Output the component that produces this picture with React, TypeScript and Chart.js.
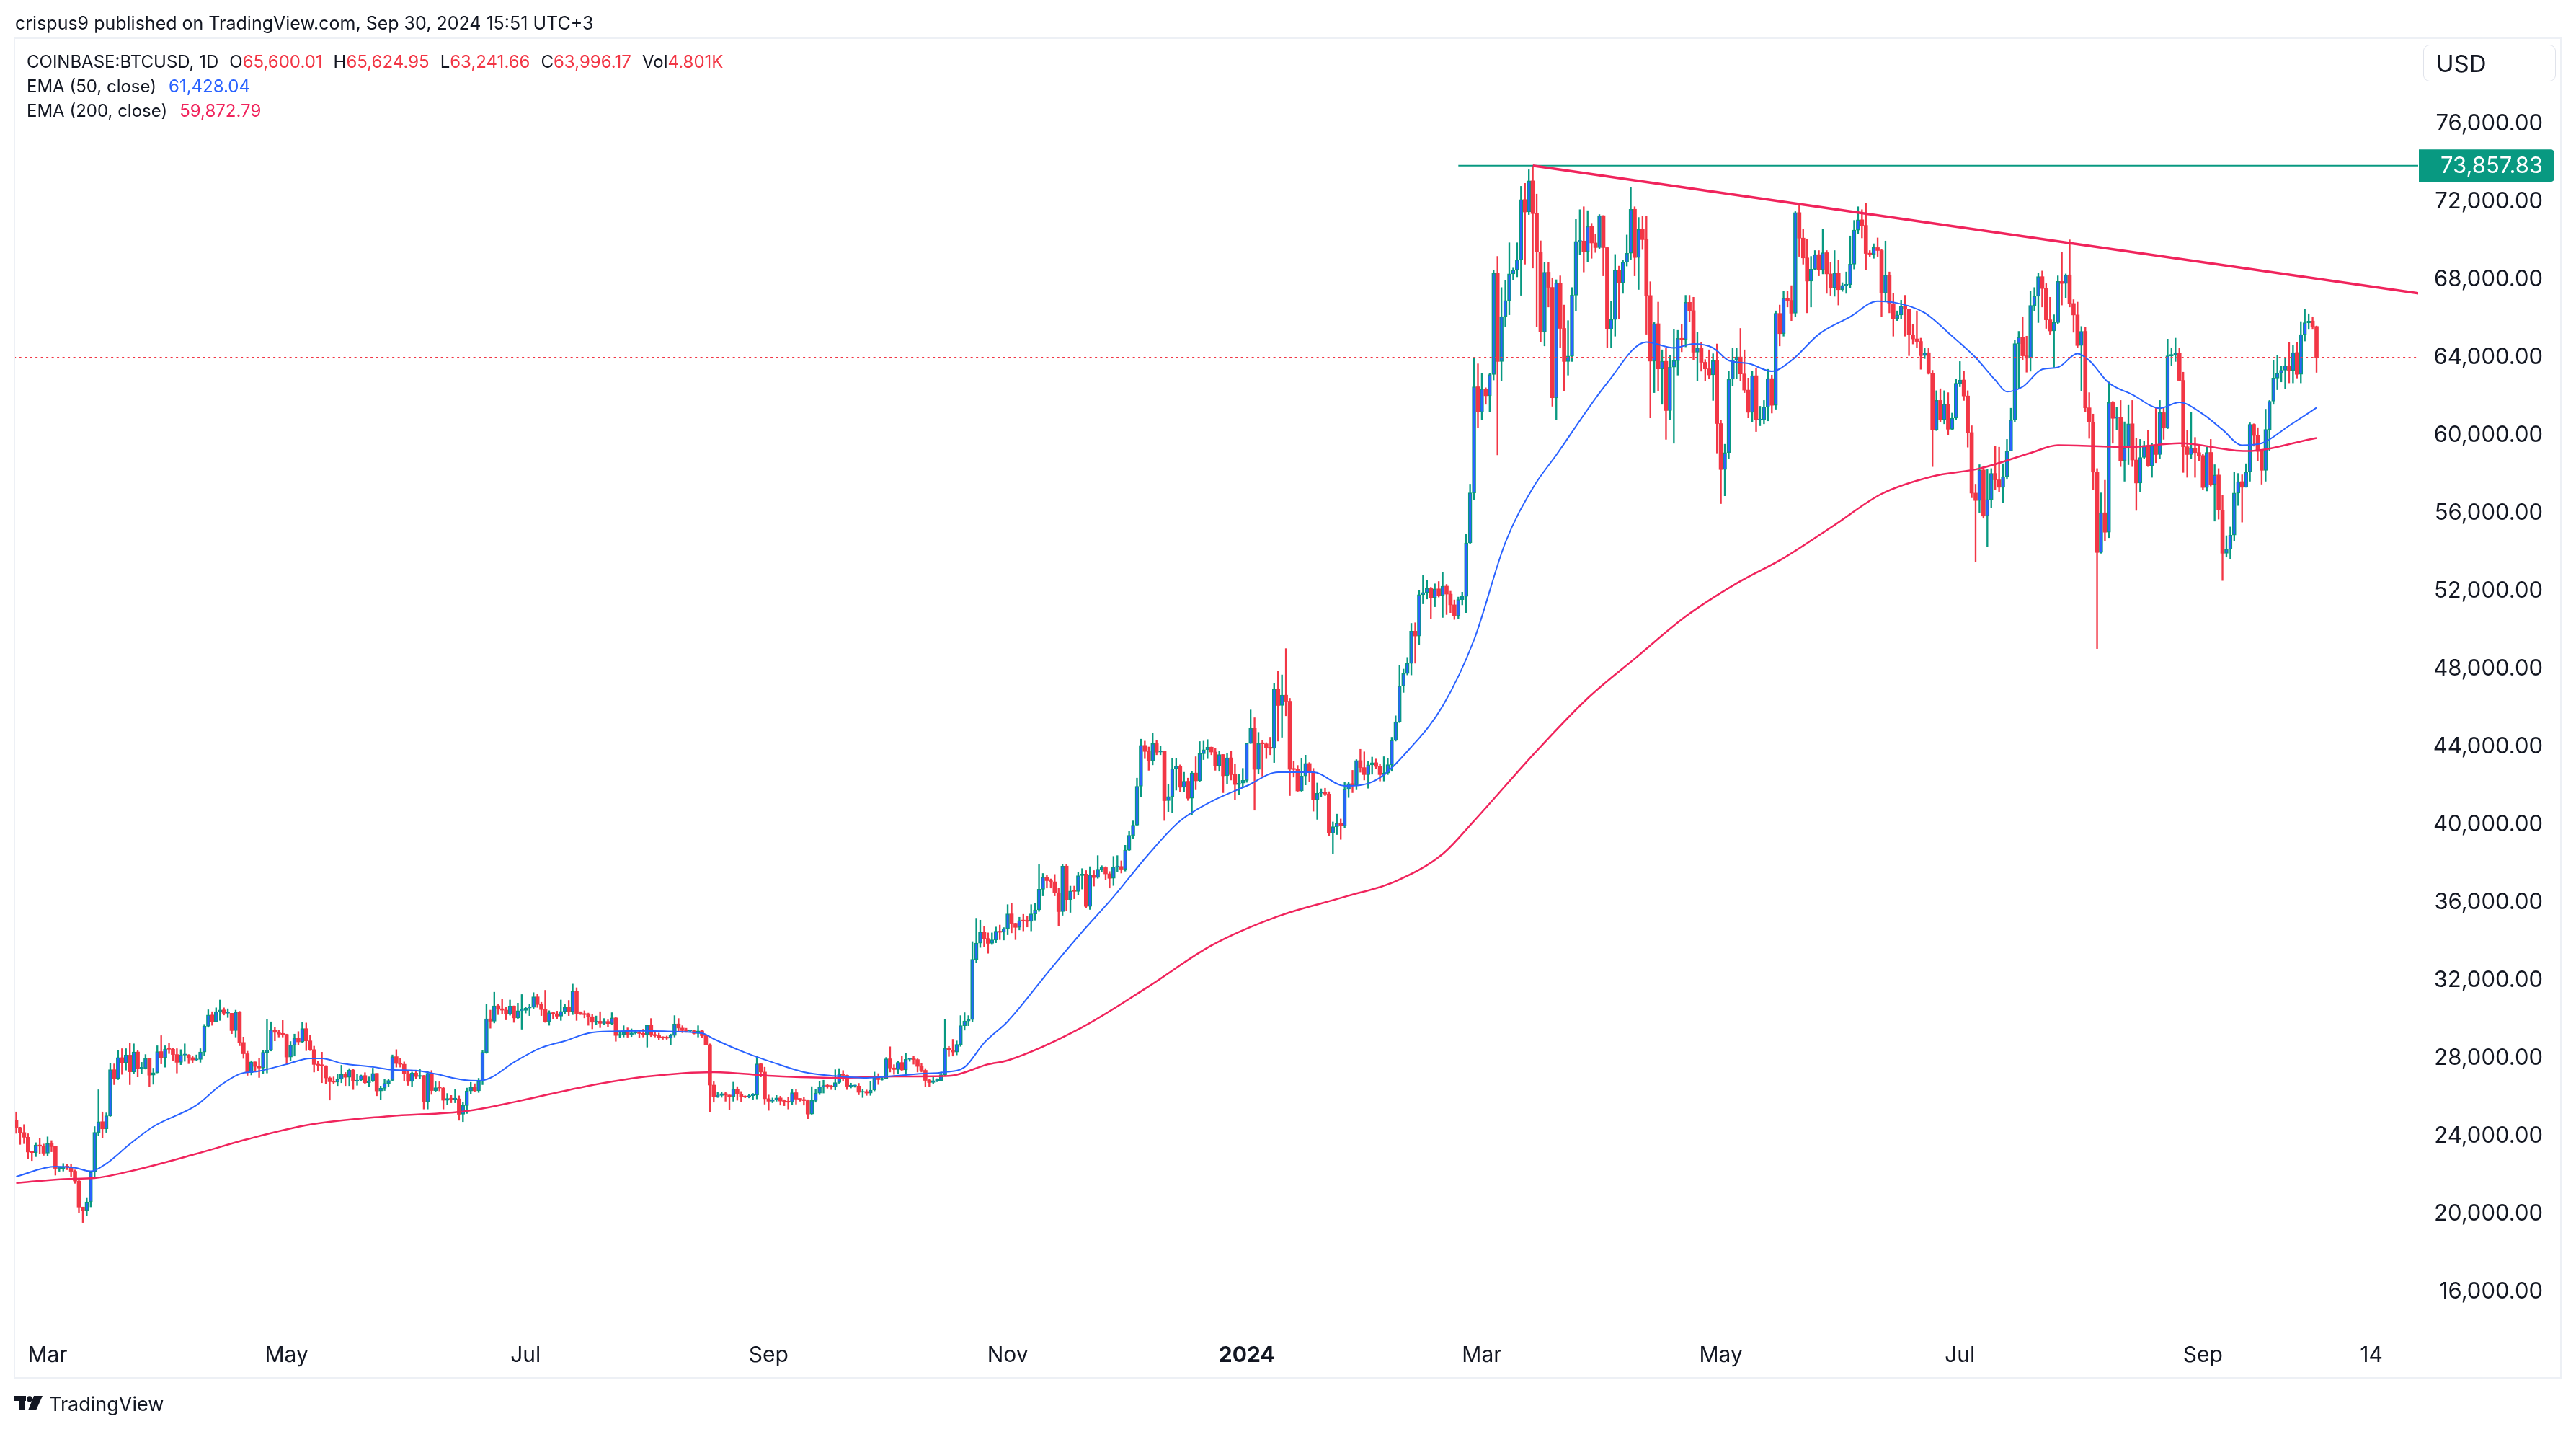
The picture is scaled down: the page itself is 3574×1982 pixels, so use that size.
import React, { useEffect, useRef } from 'react';
import { Chart, registerables } from 'chart.js';

Chart.register(...registerables);

// ---------- DATA (prices in thousands of USD, daily candles from FIRST_CANDLE_DATE) ----------
const PRICE_UNIT = 1000;
const FIRST_CANDLE_DATE = '2023-02-21';
const FIRST_OPEN = 24.84; // each later open is the previous day's close (24/7 market)

const CLOSES = [
  24.45,24.19,23.95,23.19,23.16,23.55,23.49,23.13,
  23.63,23.47,22.35,22.35,22.43,22.41,22.20,21.70,20.36,20.19,20.63,22.16,24.20,24.75,24.38,25.05,27.42,26.97,28.04,27.77,28.17,27.31,28.33,27.49,27.49,27.99,27.14,27.27,28.35,28.03,28.48,
  28.47,28.20,27.80,28.17,28.17,28.04,27.92,27.95,28.33,29.65,30.23,29.89,30.40,30.49,30.32,30.32,29.43,30.39,28.82,28.24,27.27,27.82,27.59,27.51,28.31,28.42,29.47,29.34,29.25,29.23,
  28.07,28.68,29.03,28.85,29.53,28.90,28.45,27.69,27.65,27.62,27.00,26.80,26.78,26.93,27.18,27.03,27.40,26.83,26.89,27.12,26.75,26.85,27.23,26.33,26.47,26.72,26.87,28.09,27.74,27.70,27.22,
  26.82,27.25,27.07,27.12,25.76,27.24,26.35,26.50,26.48,25.85,25.94,25.90,25.92,25.13,25.58,26.33,26.51,26.34,26.84,28.31,30.03,29.91,30.70,30.55,30.48,30.27,30.69,30.08,30.45,30.47,
  30.59,30.62,31.16,30.77,30.51,29.90,30.35,30.29,30.17,30.41,30.62,30.39,31.45,30.31,30.30,30.25,30.14,29.86,29.91,29.80,29.90,29.79,30.08,29.18,29.23,29.35,29.21,29.31,29.35,29.28,29.23,
  29.70,29.19,29.17,29.07,29.05,29.04,29.18,29.77,29.56,29.43,29.40,29.42,29.28,29.41,29.17,28.70,26.63,26.05,26.10,26.19,26.12,26.04,26.43,26.16,26.05,26.01,26.09,26.11,27.72,27.30,25.93,
  25.80,25.87,25.97,25.81,25.78,25.75,26.24,25.91,25.89,25.83,25.14,25.84,26.22,26.53,26.61,26.57,26.53,26.76,27.21,27.13,26.57,26.58,26.58,26.26,26.30,26.22,26.37,27.02,26.91,26.97,
  27.98,27.51,27.43,27.79,27.41,27.95,27.97,27.94,27.59,27.39,26.87,26.76,26.86,26.86,27.16,28.52,28.42,28.33,28.72,29.68,29.92,29.99,33.09,33.92,34.50,34.16,33.91,34.09,34.53,34.48,34.66,
  35.42,34.94,34.73,35.08,35.05,35.04,35.42,35.63,36.69,37.31,37.13,37.07,36.50,35.54,37.88,36.16,36.60,36.58,37.39,37.47,35.81,37.43,37.29,37.72,37.80,37.48,37.25,37.83,37.86,37.72,
  38.70,39.46,39.98,41.98,44.08,43.77,43.29,44.17,43.73,43.79,41.24,41.45,42.88,43.02,41.93,42.24,41.36,42.66,42.26,43.65,43.86,43.99,43.74,43.02,43.61,42.52,43.44,42.58,42.07,42.14,42.28,
  44.18,44.95,42.85,44.17,44.16,43.97,43.93,46.97,46.13,46.66,46.35,42.85,42.84,41.74,42.51,43.15,42.74,41.28,41.62,41.67,41.58,39.57,39.90,40.08,39.94,41.82,42.12,42.03,43.30,42.94,42.58,
  43.08,43.19,43.00,42.58,42.66,43.09,44.34,45.29,47.13,47.77,48.29,49.95,49.70,51.82,51.93,52.14,51.66,52.12,51.78,52.26,51.85,51.30,50.73,51.57,51.73,54.48,57.05,62.50,61.20,
  62.39,62.04,63.13,68.33,63.80,66.11,66.93,68.30,68.50,69.02,72.12,71.48,73.08,71.40,69.43,65.32,68.39,67.61,61.94,67.84,65.50,63.80,64.08,67.21,69.97,69.99,69.45,70.74,69.89,69.65,71.29,
  69.65,65.46,65.96,68.50,67.84,68.90,69.36,71.62,69.14,70.59,70.06,67.19,63.82,65.74,63.42,63.81,61.28,63.51,63.84,64.99,64.93,66.84,66.41,64.28,64.50,63.76,63.42,63.11,63.84,60.61,
  58.25,59.12,62.89,63.89,64.03,63.16,62.33,61.19,63.07,60.79,60.80,61.46,62.92,61.55,66.27,65.23,67.05,66.94,66.28,71.45,70.14,69.12,67.93,68.54,69.29,68.50,69.39,68.30,67.58,68.35,67.49,
  67.71,67.75,68.80,70.55,71.08,70.79,69.35,69.31,69.65,69.50,67.32,68.24,66.76,66.01,66.19,66.64,66.49,65.16,64.96,64.83,64.10,64.25,63.18,60.28,61.80,60.81,61.61,60.32,60.89,62.68,
  62.85,62.03,60.15,57.04,56.66,58.23,55.86,56.71,58.05,57.72,57.34,57.89,59.20,60.79,64.72,65.04,64.09,63.97,66.68,67.15,68.16,67.55,65.94,65.37,65.80,67.91,67.81,68.25,66.78,66.19,64.62,
  65.35,61.42,60.68,58.12,53.99,56.03,55.03,61.69,60.88,60.94,58.71,59.35,60.60,58.74,57.56,58.87,59.49,58.43,59.48,59.02,61.17,60.38,64.09,64.16,64.22,62.83,59.42,59.02,59.36,59.12,58.97,
  57.33,59.13,57.48,57.97,56.16,53.95,54.16,54.88,57.04,57.63,57.34,58.13,60.57,60.00,59.18,58.21,60.31,61.76,62.95,63.20,63.35,63.58,63.34,64.26,63.14,65.18,65.79,65.88,65.60,63.996,
];

const HIGHS = [
  25.25,24.47,24.60,24.13,23.22,23.67,23.88,23.60,
  23.97,23.78,23.47,22.42,22.60,22.55,22.55,22.27,21.82,20.30,20.85,22.18,24.50,26.39,25.25,25.20,27.75,27.72,28.40,28.50,28.50,28.80,28.75,28.40,27.80,28.20,28.02,27.50,28.65,29.17,28.65,
  28.80,28.53,28.50,28.45,28.75,28.20,28.10,28.18,28.50,29.75,30.50,30.40,30.60,31.00,30.60,30.55,30.32,30.48,30.42,29.10,28.37,27.88,27.82,28.00,28.40,30.00,29.88,29.58,29.45,29.95,
  29.25,28.87,29.25,29.38,29.85,29.82,29.20,28.63,27.84,28.32,27.63,27.05,27.05,27.20,27.65,27.28,27.48,27.45,27.18,27.15,27.27,27.05,27.50,27.23,26.58,26.92,26.95,28.18,28.45,28.00,27.82,
  27.35,27.30,27.32,27.45,27.13,27.35,27.38,26.80,26.80,26.52,26.20,26.10,26.42,26.08,25.75,26.48,26.77,26.70,26.98,28.40,30.78,30.48,31.40,30.80,31.05,30.65,31.00,30.70,30.84,31.28,
  30.65,30.80,31.38,31.32,30.88,31.50,30.45,30.38,30.43,31.00,30.80,30.98,31.82,31.63,30.40,30.45,30.33,30.25,30.18,30.40,30.05,29.98,30.35,30.10,29.38,29.68,29.57,29.52,29.40,29.45,29.50,
  29.72,30.05,29.40,29.30,29.12,29.15,29.25,30.20,30.05,29.68,29.55,29.45,29.45,29.68,29.45,29.22,28.75,26.80,26.28,26.28,26.26,26.12,26.78,26.55,26.30,26.08,26.17,26.20,28.10,27.75,27.55,
  26.12,25.97,26.10,26.06,25.88,26.00,26.43,26.42,25.93,26.00,25.88,26.55,26.40,26.82,26.88,26.66,26.62,27.42,27.48,27.38,27.15,26.73,26.63,26.72,26.43,26.38,26.83,27.30,27.22,27.08,
  28.05,28.60,27.68,27.84,28.12,28.25,28.00,28.10,27.98,27.75,27.48,26.95,27.10,26.96,27.30,30.00,28.62,28.98,28.90,30.20,30.35,30.20,34.00,35.20,35.10,34.80,34.45,34.45,34.75,34.85,34.72,
  35.90,35.98,34.95,35.25,35.40,35.30,35.90,35.95,37.95,37.50,37.40,37.22,37.45,36.75,37.95,37.95,36.85,36.85,37.55,37.75,37.65,37.85,37.65,38.42,37.90,37.85,37.60,38.38,38.42,38.15,
  38.95,39.68,40.20,42.40,44.40,44.30,44.00,44.70,44.35,44.05,43.80,42.10,43.43,43.40,43.08,42.70,42.40,42.75,43.50,44.28,44.30,44.38,44.00,43.95,43.80,43.60,43.68,43.80,43.12,42.60,42.90,
  44.20,45.90,45.50,44.75,44.35,44.22,44.50,47.25,47.90,47.70,49.05,46.50,43.25,43.05,43.40,43.58,43.20,42.90,42.15,41.85,41.88,41.70,40.15,40.55,40.30,42.20,42.20,42.80,43.35,43.88,43.75,
  43.28,43.48,43.38,43.12,43.50,43.40,44.50,45.60,48.20,48.00,48.60,50.35,50.38,52.05,52.82,52.55,52.20,52.38,52.50,52.98,52.35,52.00,51.55,51.70,51.95,54.92,57.50,64.00,63.68,
  63.20,62.45,63.20,68.50,69.20,67.60,67.98,69.90,68.60,69.90,72.80,72.95,73.65,73.85783,72.40,70.00,68.90,68.90,68.10,68.00,68.20,66.70,65.90,67.60,71.10,71.60,71.75,71.55,70.90,70.35,71.35,
  71.30,69.65,66.90,69.30,68.70,69.00,70.30,72.75,71.75,71.20,71.25,71.25,67.90,65.80,66.85,64.40,64.50,64.10,65.45,65.40,65.70,67.20,67.20,67.10,65.30,64.80,63.90,64.40,64.20,64.70,
  60.80,59.55,63.30,64.50,64.50,65.50,64.40,62.95,63.30,63.45,61.50,61.80,63.40,63.10,66.40,66.70,67.40,67.40,67.70,71.50,71.95,70.60,70.10,69.20,69.50,69.50,70.60,69.50,68.90,69.50,69.00,
  67.85,68.40,70.25,71.05,71.75,71.60,71.95,69.50,69.85,70.15,69.55,69.99,68.40,67.30,66.40,66.95,67.20,66.50,65.70,66.40,65.00,64.50,64.50,63.35,62.30,62.40,62.30,62.20,61.15,62.90,
  63.80,63.30,62.30,60.50,57.50,58.50,58.40,58.25,58.30,59.45,59.40,58.55,59.80,61.40,64.90,65.35,66.10,65.10,67.40,67.60,68.35,68.45,67.80,67.10,66.20,68.20,69.40,68.30,70.05,66.98,66.85,
  65.60,65.55,62.20,61.10,58.30,57.05,57.70,62.75,61.75,61.45,61.80,60.70,61.55,61.80,59.85,59.80,59.70,60.25,59.60,61.40,61.80,61.40,64.95,64.50,65.00,64.50,63.25,60.25,61.20,59.90,59.45,
  59.05,59.40,59.80,58.50,58.30,56.95,54.85,55.30,58.10,58.05,57.98,58.55,60.65,60.60,60.40,59.20,61.35,61.80,63.85,64.10,63.55,64.00,64.80,64.65,64.80,65.85,66.50,66.25,66.10,65.62495,
];

const LOWS = [
  24.15,23.58,23.62,22.86,22.75,22.95,23.11,23.02,
  23.00,23.20,22.00,22.20,22.21,22.28,21.93,21.58,20.05,19.57,19.91,20.37,21.90,24.05,23.91,24.20,25.02,26.65,26.91,27.18,27.40,26.65,27.20,27.05,27.20,27.45,26.55,26.67,27.25,27.72,27.55,
  28.25,27.87,27.25,27.68,27.85,27.73,27.78,27.88,27.80,28.15,29.60,29.70,29.87,29.95,30.23,30.10,29.27,29.10,28.65,28.00,27.13,27.15,27.35,27.02,27.21,27.25,28.38,28.90,29.10,29.10,
  27.70,27.87,28.12,28.70,28.82,28.40,28.40,27.30,27.35,26.75,26.70,25.86,26.70,26.60,26.75,26.60,26.60,26.40,26.62,26.85,26.68,26.55,26.80,26.08,25.88,26.35,26.55,26.85,27.55,27.55,26.85,
  26.61,26.55,26.95,26.97,25.40,25.40,26.15,26.30,26.33,25.40,25.62,25.72,25.72,24.82,24.75,25.17,26.18,26.28,26.25,26.65,28.26,29.55,29.82,30.25,30.30,29.98,30.22,29.85,30.05,29.50,
  30.33,30.20,30.57,30.62,30.20,29.85,29.70,30.05,30.05,29.95,30.28,30.20,30.25,29.95,30.25,30.08,29.70,29.52,29.75,29.58,29.73,29.62,29.75,28.88,29.05,29.10,29.09,29.12,29.25,29.05,29.10,
  28.58,29.12,29.10,28.95,28.98,28.98,28.70,29.10,29.35,29.32,29.34,29.38,29.25,29.10,29.05,28.70,25.25,25.75,25.99,26.00,25.80,25.35,25.80,25.85,25.78,25.98,25.97,25.87,25.92,27.05,25.65,
  25.33,25.72,25.80,25.60,25.57,25.40,25.63,25.65,25.80,25.60,24.90,25.13,25.75,26.14,26.22,26.47,26.40,26.38,26.72,26.85,26.40,26.48,26.52,26.13,25.99,26.10,26.10,26.33,26.66,26.88,
  26.94,27.30,27.18,27.20,27.35,27.18,27.85,27.70,27.30,27.30,26.56,26.55,26.70,26.80,26.84,27.12,28.10,28.12,28.18,28.62,29.45,29.68,29.90,32.90,33.70,33.75,33.40,33.85,33.94,34.10,34.08,
  34.35,34.45,34.10,34.60,34.55,34.75,34.55,35.10,35.55,36.35,36.75,36.75,36.35,34.80,35.35,35.60,35.50,36.20,36.40,36.70,35.75,35.65,36.85,37.25,37.60,37.18,36.75,36.88,37.60,37.52,
  37.62,38.65,39.28,39.95,41.42,43.40,42.80,43.08,43.60,43.60,40.22,40.68,40.63,41.78,41.68,41.68,41.25,40.52,41.80,42.20,43.35,43.40,43.60,42.80,42.75,41.65,42.12,42.30,41.30,41.55,41.96,
  42.18,44.18,40.75,42.62,42.50,43.40,43.60,43.20,44.30,44.50,45.60,41.50,42.45,41.72,41.72,42.05,42.20,40.70,40.28,41.45,41.50,39.45,38.50,39.50,39.25,39.85,41.40,41.65,41.80,42.70,42.30,
  41.88,42.60,42.88,42.25,42.25,42.58,42.75,44.30,45.25,46.80,47.70,47.70,48.30,49.25,51.35,51.60,50.60,51.20,51.70,50.65,50.80,50.90,50.55,50.60,51.30,50.90,54.45,56.70,60.40,
  60.80,61.60,61.20,62.85,59.00,62.80,65.60,66.20,68.00,68.15,67.20,68.80,71.35,68.60,65.60,64.80,64.60,66.60,61.50,60.80,64.50,62.30,63.10,63.80,66.40,69.30,68.40,68.90,69.10,69.40,69.60,
  68.20,64.50,64.50,65.10,66.00,67.30,68.70,69.05,68.20,67.50,69.55,65.20,60.90,62.20,62.30,61.60,59.80,60.80,59.60,63.10,64.30,64.55,65.85,63.90,62.80,63.30,62.80,62.90,61.80,59.10,
  56.50,56.90,58.80,62.55,62.90,62.80,62.20,60.90,60.70,60.20,60.50,60.60,60.75,61.15,61.35,64.60,65.10,66.60,65.90,66.10,69.20,68.80,66.30,66.60,68.50,68.20,68.30,67.30,67.20,67.15,66.70,
  67.40,67.30,67.60,68.55,70.35,70.15,68.50,69.20,69.10,69.20,66.10,66.90,66.30,65.10,65.90,66.00,65.10,64.10,64.70,64.50,63.40,63.95,63.15,58.40,60.25,60.70,60.60,60.05,60.30,60.80,
  62.50,61.80,59.40,56.80,53.50,56.05,55.75,54.30,56.30,57.20,57.10,56.55,57.75,59.20,60.70,62.40,63.90,63.25,63.30,66.40,65.80,66.60,65.50,65.20,63.50,65.75,66.70,67.05,66.60,65.30,64.50,
  62.30,61.20,59.85,57.20,49.05,53.95,54.60,54.75,59.60,60.30,58.40,57.65,58.50,58.40,56.15,57.10,58.80,58.40,57.85,58.60,58.80,59.80,60.35,63.60,63.80,62.80,58.10,57.85,58.80,57.85,58.70,
  57.20,57.15,57.40,55.60,55.70,52.55,53.75,53.65,54.60,56.40,55.55,57.35,57.65,59.45,58.70,57.50,57.65,59.20,61.60,62.35,62.75,62.40,62.70,62.70,62.95,62.70,64.85,65.45,65.45,63.24166,
];

// EMA lines
const EMA50_DATES = [
  '2023-02-21','2023-03-03','2023-03-08','2023-03-12','2023-03-16','2023-03-22','2023-03-28','2023-04-08','2023-04-14','2023-04-19',
  '2023-04-24','2023-05-01','2023-05-07','2023-05-10','2023-05-15','2023-05-23','2023-05-28','2023-06-03','2023-06-08','2023-06-15',
  '2023-06-19','2023-06-22','2023-06-28','2023-07-05','2023-07-11','2023-07-17','2023-07-24','2023-07-31','2023-08-08','2023-08-15',
  '2023-08-18','2023-08-26','2023-09-02','2023-09-10','2023-09-18','2023-09-26','2023-10-03','2023-10-09','2023-10-16','2023-10-21',
  '2023-10-26','2023-11-01','2023-11-12','2023-11-20','2023-11-28','2023-12-07','2023-12-15','2023-12-23','2024-01-01','2024-01-09',
  '2024-01-18','2024-01-26','2024-02-03','2024-02-12','2024-02-20','2024-02-28','2024-03-07','2024-03-14','2024-03-20','2024-04-02',
  '2024-04-12','2024-04-19','2024-04-24','2024-04-29','2024-05-03','2024-05-08','2024-05-14','2024-05-19','2024-05-26','2024-06-03',
  '2024-06-10','2024-06-15','2024-06-22','2024-06-29','2024-07-05','2024-07-10','2024-07-13','2024-07-17','2024-07-22','2024-07-26',
  '2024-07-31','2024-08-03','2024-08-08','2024-08-14','2024-08-21','2024-08-26','2024-09-01','2024-09-06','2024-09-11','2024-09-16',
  '2024-09-23','2024-09-30',
];
const EMA50_VALUES = [
  21930,22440,22380,22200,22600,23600,24500,25600,26600,27200,
  27350,27700,28000,28000,27750,27560,27420,27380,27200,26900,
  26850,27000,27800,28550,28900,29300,29400,29420,29380,29300,
  29000,28300,27800,27300,27100,27000,27100,27200,27300,27550,
  28800,29900,32600,34500,36300,38500,40200,41200,42000,42700,
  42700,42000,42300,44000,46100,49500,54500,57300,59000,62700,
  64800,64500,64700,64500,63850,63700,63300,63850,65200,66100,
  66900,66800,66300,65100,64000,62850,62250,62500,63400,63500,
  64200,63850,62700,62100,61400,61700,61100,60300,59500,59600,
  60500,61428.04,
];

const EMA200_DATES = [
  '2023-02-21','2023-03-05','2023-03-13','2023-03-22','2023-04-08','2023-04-21','2023-05-07','2023-05-27','2023-06-16','2023-06-29',
  '2023-07-16','2023-08-01','2023-08-18','2023-09-02','2023-09-18','2023-10-03','2023-10-17','2023-10-27','2023-11-01','2023-11-20',
  '2023-12-07','2023-12-23','2024-01-09','2024-01-26','2024-02-08','2024-02-20','2024-02-28','2024-03-15','2024-03-28','2024-04-10',
  '2024-04-22','2024-05-05','2024-05-17','2024-05-30','2024-06-11','2024-06-24','2024-07-06','2024-07-19','2024-07-26','2024-08-13',
  '2024-08-26','2024-09-12','2024-09-30',
];
const EMA200_VALUES = [
  21600,21800,21850,22200,23100,23850,24600,25030,25300,25800,
  26550,27070,27300,27100,27000,27070,27100,27700,27900,29600,
  31700,33800,35300,36300,37100,38500,40200,43800,46500,48700,
  50700,52400,53700,55400,57000,57900,58300,59100,59500,59400,
  59600,59200,59872.79,
];

// drawings
const TREND_DATES = ['2024-03-14', '2024-10-26'];
const TREND_VALUES = [73857.83, 67300];
const ATH_DATES = ['2024-02-24', '2024-10-26'];
const ATH_VALUE = 73857.83;
const LAST_DATES = ['2023-02-19', '2024-10-27'];
const LAST_PRICE = 63996.17;

// axes
const X_TICK_DATES = ['2023-03-01','2023-05-01','2023-07-01','2023-09-01','2023-11-01','2024-01-01','2024-03-01','2024-05-01','2024-07-01','2024-09-01','2024-10-14'];
const X_TICK_LABELS = ['Mar','May','Jul','Sep','Nov','2024','Mar','May','Jul','Sep','14'];
const Y_TICKS = [16000,20000,24000,28000,32000,36000,40000,44000,48000,52000,56000,60000,64000,68000,72000,76000];

// ---------- helpers ----------
const ORIGIN = Date.UTC(2023, 2, 1);
const dayOf = (s: string) => {
  const [y, m, d] = s.split('-').map(Number);
  return (Date.UTC(y, m - 1, d) - ORIGIN) / 86400000;
};
const fmt2 = (v: number) =>
  v.toLocaleString('en-US', { minimumFractionDigits: 2, maximumFractionDigits: 2 });

const UP_BORDER = '#089981';
const UP_FILL = '#2962FF';
const DOWN = '#F23645';
const EMA50_COLOR = '#2962FF';
const EMA200_COLOR = '#F0245C';
const TEXT = '#131722';
const FONT = 'Inter, "Noto Sans", sans-serif';

export default function App() {
  const canvasRef = useRef<HTMLCanvasElement | null>(null);

  useEffect(() => {
    document.body.style.margin = '0';
    const canvas = canvasRef.current;
    if (!canvas) return;

    const n = Math.min(CLOSES.length, HIGHS.length, LOWS.length);
    const d0 = dayOf(FIRST_CANDLE_DATE);
    const wicks: any[] = [];
    const bodies: any[] = [];
    const up: boolean[] = [];
    for (let i = 0; i < n; i++) {
      const o = (i === 0 ? FIRST_OPEN : CLOSES[i - 1]) * PRICE_UNIT;
      const c = CLOSES[i] * PRICE_UNIT;
      const h = Math.max(HIGHS[i] * PRICE_UNIT, o, c);
      const l = Math.min(LOWS[i] * PRICE_UNIT, o, c);
      const x = d0 + i;
      wicks.push({ x, y: [l, h] });
      bodies.push({ x, y: [o, c] });
      up.push(c >= o);
    }

    const ema50 = EMA50_DATES.map((d, i) => ({ x: dayOf(d), y: EMA50_VALUES[i] }));
    const ema200 = EMA200_DATES.map((d, i) => ({ x: dayOf(d), y: EMA200_VALUES[i] }));
    const trend = TREND_DATES.map((d, i) => ({ x: dayOf(d), y: TREND_VALUES[i] }));
    const ath = ATH_DATES.map((d) => ({ x: dayOf(d), y: ATH_VALUE }));
    const last = LAST_DATES.map((d) => ({ x: dayOf(d), y: LAST_PRICE }));

    const athLabel = {
      id: 'athLabel',
      afterDraw(chart: any) {
        const ctx = chart.ctx;
        const y = chart.scales.y.getPixelForValue(ATH_VALUE);
        ctx.save();
        ctx.fillStyle = '#089981';
        ctx.beginPath();
        (ctx as any).roundRect(3356, y - 22.5, 188, 45, [0, 5, 5, 0]);
        ctx.fill();
        ctx.fillStyle = '#FFFFFF';
        ctx.font = `31px ${FONT}`;
        ctx.textAlign = 'right';
        ctx.textBaseline = 'middle';
        ctx.fillText(fmt2(ATH_VALUE), 3528, y + 1);
        ctx.restore();
      },
    };

    const chart = new Chart(canvas, {
      type: 'bar',
      data: {
        datasets: [
          {
            type: 'line',
            data: trend,
            borderColor: EMA200_COLOR,
            borderWidth: 3.5,
            pointRadius: 0,
            order: 1,
          } as any,
          {
            type: 'line',
            data: ath,
            borderColor: '#089981',
            borderWidth: 2,
            pointRadius: 0,
            order: 1,
          } as any,
          {
            type: 'line',
            data: last,
            borderColor: DOWN,
            borderWidth: 2,
            borderDash: [3, 4.5],
            pointRadius: 0,
            order: 2,
          } as any,
          {
            type: 'line',
            data: ema50,
            borderColor: EMA50_COLOR,
            borderWidth: 2,
            pointRadius: 0,
            cubicInterpolationMode: 'monotone',
            order: 3,
          } as any,
          {
            type: 'line',
            data: ema200,
            borderColor: EMA200_COLOR,
            borderWidth: 2.5,
            pointRadius: 0,
            cubicInterpolationMode: 'monotone',
            order: 3,
          } as any,
          {
            type: 'bar',
            data: bodies,
            barThickness: 5,
            minBarLength: 1.5,
            grouped: false,
            borderSkipped: false,
            backgroundColor: (c: any) => (up[c.dataIndex] ? UP_FILL : DOWN),
            borderColor: (c: any) => (up[c.dataIndex] ? UP_BORDER : DOWN),
            borderWidth: (c: any) => (up[c.dataIndex] ? 1.5 : 0),
            order: 10,
          } as any,
          {
            type: 'bar',
            data: wicks,
            barThickness: 1.7,
            grouped: false,
            borderWidth: 0,
            backgroundColor: (c: any) => (up[c.dataIndex] ? UP_BORDER : DOWN),
            order: 11,
          } as any,
        ],
      },
      options: {
        responsive: false,
        maintainAspectRatio: false,
        devicePixelRatio: 1,
        animation: false,
        events: [],
        layout: { padding: { left: 20, top: 54, right: 46, bottom: 74 } },
        plugins: { legend: { display: false }, tooltip: { enabled: false } },
        scales: {
          x: {
            type: 'linear',
            min: -8.46,
            max: 604.93,
            offset: false,
            grid: { display: false },
            border: { display: false },
            afterFit: (s: any) => {
              s.height = 60;
            },
            afterBuildTicks: (s: any) => {
              s.ticks = X_TICK_DATES.map((d) => ({ value: dayOf(d) }));
            },
            ticks: {
              autoSkip: false,
              maxRotation: 0,
              padding: 6,
              color: TEXT,
              font: (c: any) => ({
                family: FONT,
                size: 30,
                weight: X_TICK_LABELS[c.index] === '2024' ? 'bold' : 'normal',
              }),
              callback: (_v: any, i: number) => X_TICK_LABELS[i],
            },
          },
          y: {
            type: 'linear',
            position: 'right',
            min: 13926,
            max: 80370,
            beginAtZero: false,
            grid: { display: false },
            border: { display: false },
            afterFit: (s: any) => {
              s.width = 173;
            },
            afterBuildTicks: (s: any) => {
              s.ticks = Y_TICKS.map((v) => ({ value: v }));
            },
            ticks: {
              padding: 20,
              crossAlign: 'far',
              color: TEXT,
              font: { family: FONT, size: 31 },
              callback: (v: any) => fmt2(Number(v)),
            },
          },
        } as any,
      },
      plugins: [athLabel],
    });

    return () => chart.destroy();
  }, []);

  const gap = { marginLeft: 15 };
  const red = { color: DOWN };

  return (
    <div style={{ position: 'relative', width: 3574, height: 1982, background: '#FFFFFF', overflow: 'hidden', fontFamily: FONT }}>
      <canvas
        ref={canvasRef}
        width={3574}
        height={1982}
        style={{ position: 'absolute', left: 0, top: 0, width: 3574, height: 1982 }}
      />
      {/* panel frame */}
      <div
        style={{
          position: 'absolute',
          left: 19,
          top: 52,
          width: 3535,
          height: 1860,
          border: '2px solid #EDF0F5',
          boxSizing: 'border-box',
          pointerEvents: 'none',
        }}
      />
      {/* publisher line */}
      <div style={{ position: 'absolute', left: 21, top: 17, fontSize: 25, lineHeight: '30px', color: TEXT, whiteSpace: 'nowrap' }}>
        crispus9 published on TradingView.com, Sep 30, 2024 15:51 UTC+3
      </div>
      {/* legend */}
      <div style={{ position: 'absolute', left: 37, top: 69, fontSize: 24, lineHeight: '34px', color: TEXT, whiteSpace: 'nowrap' }}>
        <div>
          <span>COINBASE:BTCUSD, 1D</span>
          <span style={gap}>O</span><span style={red}>65,600.01</span>
          <span style={gap}>H</span><span style={red}>65,624.95</span>
          <span style={gap}>L</span><span style={red}>63,241.66</span>
          <span style={gap}>C</span><span style={red}>63,996.17</span>
          <span style={gap}>Vol</span><span style={red}>4.801K</span>
        </div>
        <div>
          <span>EMA (50, close)</span>
          <span style={{ marginLeft: 17, color: EMA50_COLOR }}>61,428.04</span>
        </div>
        <div>
          <span>EMA (200, close)</span>
          <span style={{ marginLeft: 17, color: EMA200_COLOR }}>59,872.79</span>
        </div>
      </div>
      {/* currency box */}
      <div
        style={{
          position: 'absolute',
          left: 3362,
          top: 62,
          width: 184,
          height: 51,
          boxSizing: 'border-box',
          border: '1.5px solid #E0E3EB',
          borderRadius: 9,
          display: 'flex',
          alignItems: 'center',
          paddingLeft: 17,
          fontSize: 33,
          color: TEXT,
        }}
      >
        USD
      </div>
      {/* footer logo */}
      <svg style={{ position: 'absolute', left: 20, top: 1936 }} width={40} height={21} viewBox="0 0 40 21">
        <rect x={0} y={0} width={16} height={7} fill={TEXT} />
        <rect x={7} y={0} width={8} height={20} fill={TEXT} />
        <circle cx={21} cy={4.2} r={4} fill={TEXT} />
        <polygon points="27,0 39,0 30,20 19,20" fill={TEXT} />
      </svg>
      <div style={{ position: 'absolute', left: 68, top: 1931, fontSize: 27, lineHeight: '33px', color: TEXT, whiteSpace: 'nowrap' }}>
        TradingView
      </div>
    </div>
  );
}
